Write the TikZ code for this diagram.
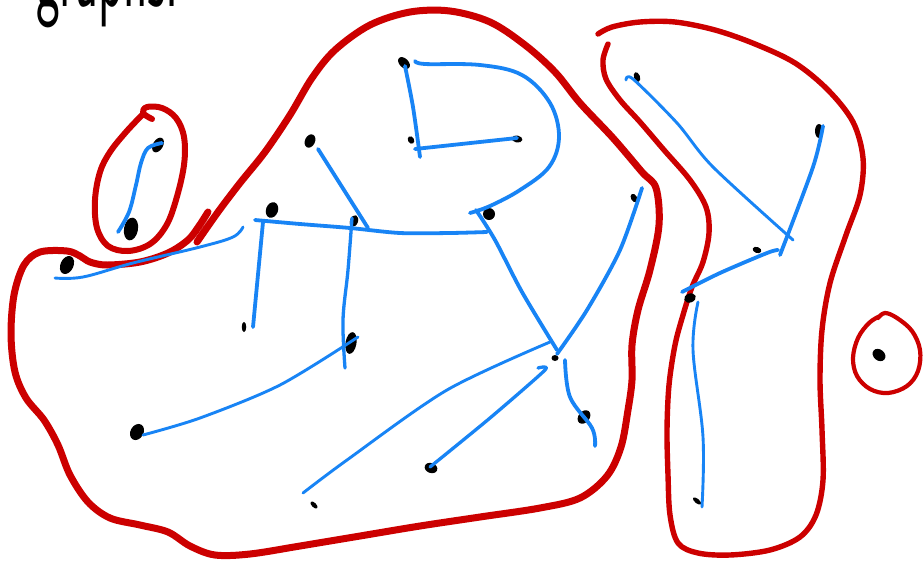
\documentclass[tikz,border=0pt]{standalone}
\usetikzlibrary{shapes.geometric}
\definecolor{pen}{RGB}{204,0,0}
\definecolor{ink}{RGB}{24,132,245}
\tikzset{
  comp/.style={draw=pen, line width=6pt, line cap=round, line join=round},
  edge/.style={draw=ink, line width=3.8pt, line cap=round, line join=round},
  thin edge/.style={draw=ink, line width=2.9pt, line cap=round, line join=round},
  vtx/.style={fill=black, ellipse, inner sep=0pt, draw=none},
}
\begin{document}
\begin{tikzpicture}[x=1pt,y=-1pt]
\useasboundingbox (0,0) rectangle (923,565);
\clip (0,0) rectangle (923,565);
\fill[white] (0,0) rectangle (923,565);

% title (cut off at top, as in the reference)
\node[anchor=base west, font=\sffamily\fontsize{84}{84}\selectfont, inner sep=0pt, xscale=0.6, yscale=1.25] (title) at (36,6) {graphs:};

% ---------- red components ----------
% small loop
\draw[comp] plot[smooth, tension=0.6] coordinates {(152,119) (143,113) (147,107) (162,108) (176,118) (184,137) (184,165) (176,200) (166,226) (150,244) (128,251) (108,246) (97,228) (95,200) (100,172) (110,152) (126,132) (143,114)};
% big main blob
\draw[comp, line width=7pt] plot[smooth, tension=0.55] coordinates {(208,212) (199,226) (188,240) (168,253) (140,262) (107,265) (90,262) (80,256) (67,251) (40,252) (24,265) (14,295) (11,335) (15,372) (26,398) (44,420) (58,445) (70,475) (88,502) (110,518) (140,525) (168,532) (190,546) (215,555) (250,554) (300,546) (360,536) (420,526) (480,517) (540,508) (580,498) (607,476) (621,447) (628,410) (632,380) (632,345) (638,310) (650,270) (659,225) (656,188) (642,172) (613,138) (580,103) (555,72) (525,45) (490,22) (450,11) (410,12) (370,25) (335,50) (312,78) (290,115) (265,152) (240,183) (218,212) (197,242)};
% right blob
\draw[comp, line width=5.4pt] plot[smooth, tension=0.55] coordinates {(608,44) (603,60) (606,79) (620,100) (640,122) (664,150) (690,180) (706,207) (709,233) (703,262) (692,287) (683,315) (675,345) (669,385) (667,430) (668,475) (670,515) (678,543) (698,553) (730,555) (770,550) (800,537) (816,515) (823,480) (822,430) (820,380) (822,330) (830,283) (846,235) (860,195) (863,158) (853,122) (828,90) (795,63) (755,44) (715,30) (675,22) (640,22) (612,27) (598,34)};
% isolated vertex circle
\draw[comp, line width=4.2pt] plot[smooth, tension=0.6] coordinates {(878,318) (885,313) (897,318) (912,331) (920,350) (918,371) (907,386) (888,393) (870,389) (857,376) (853,358) (858,338) (869,323) (880,316)};

% ---------- vertices ----------
\node[vtx, minimum width=10pt, minimum height=16pt, rotate=-30] (v1) at (158,145) {};
\node[vtx, minimum width=14pt, minimum height=23pt, rotate=-10] (v2) at (131,229) {};
\node[vtx, minimum width=13pt, minimum height=19pt, rotate=-25] (v3) at (67,265) {};
\node[vtx, minimum width=10pt, minimum height=14pt, rotate=-25] (v4) at (310,141) {};
\node[vtx, minimum width=9pt, minimum height=14pt, rotate=45] (v5) at (404,63) {};
\node[vtx, minimum width=6pt, minimum height=8pt, rotate=30] (v6) at (411,140) {};
\node[vtx, minimum width=11pt, minimum height=7pt, rotate=-10] (v7) at (517,139) {};
\node[vtx, minimum width=12pt, minimum height=16pt, rotate=-20] (v8) at (272,210) {};
\node[vtx, minimum width=8pt, minimum height=12pt, rotate=-20] (v9) at (354,221) {};
\node[vtx, minimum width=12pt, minimum height=12pt] (v10) at (489,214) {};
\node[vtx, minimum width=6pt, minimum height=9pt, rotate=30] (v11) at (634,198) {};
\node[vtx, minimum width=4.5pt, minimum height=10pt] (v12) at (244,327) {};
\node[vtx, minimum width=11pt, minimum height=22pt, rotate=-10] (v13) at (351,343) {};
\node[vtx, minimum width=7pt, minimum height=6pt] (v14) at (555,358) {};
\node[vtx, minimum width=13pt, minimum height=17pt, rotate=-30] (v15) at (137,432) {};
\node[vtx, minimum width=11pt, minimum height=15pt, rotate=-40] (v16) at (584,417) {};
\node[vtx, minimum width=13pt, minimum height=10pt, rotate=-20] (v17) at (431,468) {};
\node[vtx, minimum width=4.5pt, minimum height=9pt, rotate=45] (v18) at (314,505) {};
\node[vtx, minimum width=6pt, minimum height=10pt, rotate=20] (v19) at (637,77) {};
\node[vtx, minimum width=8pt, minimum height=14pt] (v20) at (819,131) {};
\node[vtx, minimum width=9pt, minimum height=6pt, rotate=-20] (v21) at (757,250) {};
\node[vtx, minimum width=12pt, minimum height=9pt, rotate=20] (v22) at (690,298) {};
\node[vtx, minimum width=4.5pt, minimum height=10pt, rotate=50] (v23) at (697,501) {};
\node[vtx, minimum width=11pt, minimum height=14pt, rotate=50] (v24) at (879,355) {};

% ---------- blue edges ----------
\draw[edge] plot[smooth, tension=0.6] coordinates {(118,232) (129,212) (136,185) (141,163) (148,148) (162,143)};
\draw[thin edge] plot[smooth, tension=0.6] coordinates {(55,278) (83,277) (133,263) (200,247) (233,237) (243,227)};
\draw[edge] (318,149) -- (368,228);
\draw[edge] plot[smooth, tension=0.5] coordinates {(255,220) (300,224) (350,228) (400,233) (450,233) (487,232)};
\draw[edge] (263,222) -- (253,327);
\draw[edge, line width=3.3pt] plot[smooth, tension=0.6] coordinates {(352,218) (348,270) (343,320) (345,368)};
\draw[thin edge] plot[smooth, tension=0.5] coordinates {(143,435) (200,418) (280,385) (358,337)};
\draw[edge] plot[smooth, tension=0.5] coordinates {(405,66) (413,107) (420,157)};
\draw[edge] (415,149) -- (517,138);
\draw[edge] plot[smooth, tension=0.6] coordinates {(415,61) (425,64) (480,65) (522,75) (550,103) (559,137) (549,167) (520,190) (490,206) (470,213)};
\draw[edge] plot[smooth, tension=0.5] coordinates {(476,210) (495,240) (522,292) (557,350)};
\draw[edge] plot[smooth, tension=0.5] coordinates {(642,188) (620,250) (587,310) (557,354)};
\draw[thin edge] plot[smooth, tension=0.5] coordinates {(550,342) (447,390) (347,460) (303,493)};
\draw[edge, line width=3.3pt] plot[smooth, tension=0.4] coordinates {(430,467) (490,418) (545,370) (538,368)};
\draw[edge] plot[smooth, tension=0.6] coordinates {(565,360) (570,397) (592,428) (595,446)};
\draw[thin edge] plot[smooth, tension=0.5] coordinates {(626,80) (633,79) (677,123) (713,167) (793,240)};
\draw[edge] plot[smooth, tension=0.5] coordinates {(823,126) (813,167) (780,255)};
\draw[edge] plot[smooth, tension=0.5] coordinates {(682,292) (720,273) (767,253) (778,250)};
\draw[thin edge] plot[smooth, tension=0.6] coordinates {(698,302) (693,350) (703,437) (702,507)};
\end{tikzpicture}
\end{document}
